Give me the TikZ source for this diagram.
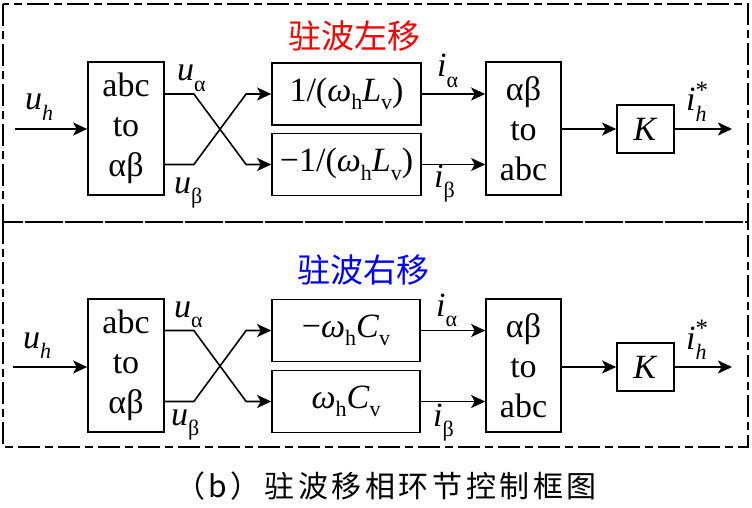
\documentclass[tikz,border=0pt]{standalone}
\usepackage{fontspec}
\setmainfont{Liberation Serif}
\newfontfamily\cjk{Noto Sans CJK SC}
\newfontfamily\cjkcap[LetterSpace=12]{Noto Sans CJK SC}
\usetikzlibrary{arrows.meta,calc}
\newcommand\subsz{\fontsize{22}{22}\selectfont}
\newcommand\lbl[2]{\textit{#1}\raisebox{-0.3em}{\subsz #2}}
\newcommand\istar{\textit{i}\rlap{\raisebox{0.36em}{\fontsize{25}{25}\selectfont *}}\raisebox{-0.3em}{\subsz\textit{h}}}
\newcommand\msub[2]{#1\raisebox{-0.25em}{\subsz #2}}
\begin{document}
\begin{tikzpicture}[x=1pt,y=-1pt,
  frame/.style={line width=1.8pt, dash pattern=on 22pt off 5pt on 8pt off 5pt},
  blk/.style={draw, line width=1.7pt, align=center, inner sep=0pt,
    font=\fontsize{34}{40}\selectfont},
  arr/.style={line width=1.6pt, -{Stealth[length=14pt,width=13pt,inset=3.5pt]}},
  lab/.style={anchor=base west, inner sep=0pt, font=\fontsize{34}{34}\selectfont},
  ttl/.style={font=\cjk\fontsize{33}{33}\selectfont, inner sep=0pt}]
\useasboundingbox (0,0) rectangle (752,508);
\fill[white] (0,0) rectangle (752,508);
% frames
\draw[frame] (3,4) rectangle (748,222);
\draw[frame] (3,222) rectangle (748,447);
% titles
\node[ttl, text=red] (t1) at (354,36) {驻波左移};
\node[ttl, text=blue] (t2) at (363,270) {驻波右移};
% ---------- top panel ----------
\node[blk, minimum width=76pt, minimum height=133pt] (A1) at (126,128.5) {abc\\to\\αβ};
\node[blk, minimum width=149pt, minimum height=62pt] (B1) at (346.5,94) {1/(\msub{\textit{ω}}{h}\msub{\textit{L}}{v})};
\node[blk, minimum width=149pt, minimum height=62pt] (C1) at (346.5,164.5) {−1/(\msub{\textit{ω}}{h}\msub{\textit{L}}{v})};
\node[blk, minimum width=75pt, minimum height=133pt] (D1) at (523.5,128.5) {αβ\\to\\abc};
\node[blk, minimum width=57pt, minimum height=48pt] (K1) at (645.5,129) {\textit{K}};
\coordinate (in1) at (15,129);
\coordinate (out1) at (732,129);
\draw[arr] (in1) -- (A1.west |- in1);
\draw[arr] (A1.east |- B1) -- ++(29,0) -- ($(C1.west)+(-25,0)$) -- (C1.west);
\draw[arr] (A1.east |- C1) -- ++(29,0) -- ($(B1.west)+(-25,0)$) -- (B1.west);
\draw[arr] (B1.east) -- (D1.west |- B1);
\draw[arr] (C1.east) -- (D1.west |- C1);
\draw[arr] (D1.east |- K1) -- (K1.west);
\draw[arr] (K1.east) -- (out1);
\node[lab] (uh1) at (25,110) {\lbl{u}{\textit{h}}};
\node[lab] (ua1) at (177,81) {\lbl{u}{α}};
\node[lab] (ub1) at (174,193) {\lbl{u}{β}};
\node[lab] (ia1) at (437,77) {\lbl{i}{α}};
\node[lab] (ib1) at (434,187) {\lbl{i}{β}};
\node[lab] (io1) at (686,111) {\istar};
% ---------- bottom panel ----------
\node[blk, minimum width=76pt, minimum height=133pt] (A2) at (126,365.5) {abc\\to\\αβ};
\node[blk, minimum width=148pt, minimum height=62pt] (B2) at (346,330.5) {−\msub{\textit{ω}}{h}\msub{\textit{C}}{v}};
\node[blk, minimum width=148pt, minimum height=62pt] (C2) at (346,401.5) {\msub{\textit{ω}}{h}\msub{\textit{C}}{v}};
\node[blk, minimum width=75pt, minimum height=133pt] (D2) at (523.5,365.5) {αβ\\to\\abc};
\node[blk, minimum width=57pt, minimum height=48pt] (K2) at (645.5,367) {\textit{K}};
\coordinate (in2) at (13,367);
\coordinate (out2) at (732,367);
\draw[arr] (in2) -- (A2.west |- in2);
\draw[arr] (A2.east |- B2) -- ++(29,0) -- ($(C2.west)+(-25,0)$) -- (C2.west);
\draw[arr] (A2.east |- C2) -- ++(29,0) -- ($(B2.west)+(-25,0)$) -- (B2.west);
\draw[arr] (B2.east) -- (D2.west |- B2);
\draw[arr] (C2.east) -- (D2.west |- C2);
\draw[arr] (D2.east |- K2) -- (K2.west);
\draw[arr] (K2.east) -- (out2);
\node[lab] (uh2) at (23,348) {\lbl{u}{\textit{h}}};
\node[lab] (ua2) at (174,317) {\lbl{u}{α}};
\node[lab] (ub2) at (171,425) {\lbl{u}{β}};
\node[lab] (ia2) at (436,316) {\lbl{i}{α}};
\node[lab] (ib2) at (433,426) {\lbl{i}{β}};
\node[lab] (io2) at (686,349) {\istar};
% caption
\node[font=\cjkcap\fontsize{30}{30}\selectfont, inner sep=0pt] (cap) at (386,486) {（b）驻波移相环节控制框图};
\end{tikzpicture}
\end{document}
